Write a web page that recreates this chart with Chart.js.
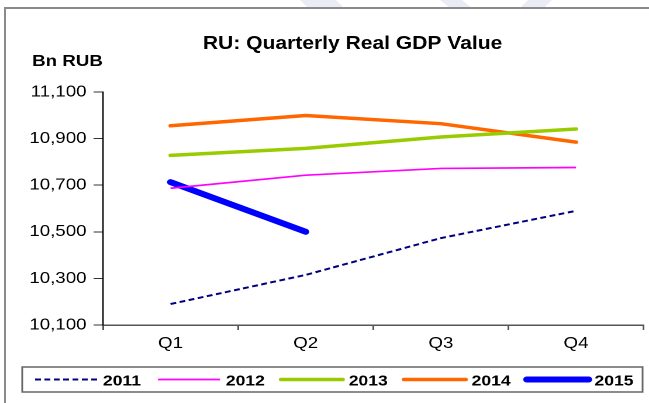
<!DOCTYPE html>
<html>
<head>
<meta charset="utf-8">
<title>RU: Quarterly Real GDP Value</title>
<script src="https://cdn.jsdelivr.net/npm/chart.js@4"></script>
<style>
  html, body { margin: 0; padding: 0; background: #fff; }
  body { width: 649px; height: 403px; position: relative; overflow: hidden; }
  #mark { position: absolute; left: 0; top: 0; }
  #frame { position: absolute; left: 4px; top: 7px; right: 0; bottom: 0;
           border-top: 2px solid #8a8a8a; border-left: 2px solid #8a8a8a; background: #fff; }
  /* the original picture is stretched sideways, so the chart is drawn narrow and widened */
  #wrap { position: absolute; left: 0; top: 0; width: 555px; height: 403px;
          transform: scaleX(1.1694); transform-origin: 0 0; }
</style>
</head>
<body>
<svg id="mark" width="649" height="10">
  <polygon points="300,0 336,0 344,8 308,8" fill="#ebebf5"/>
  <polygon points="440,0 462,0 472,8 450,8" fill="#ebebf5"/>
  <polygon points="528,0 552,0 544,8 520,8" fill="#ebebf5"/>
</svg>
<div id="frame"></div>
<div id="wrap"><canvas id="gdpChart"></canvas></div>

<script>
// --- Data (Bn RUB) ---
const quarters = ['Q1', 'Q2', 'Q3', 'Q4'];
const years    = ['2011', '2012', '2013', '2014', '2015'];
const gdp2011  = [10190, 10315, 10473, 10590];
const gdp2012  = [10687, 10743, 10772, 10776];
const gdp2013  = [10828, 10858, 10907, 10941];
const gdp2014  = [10955, 10999, 10964, 10885];
const gdp2015  = [10713, 10500];
const yMin = 10100, yMax = 11100, yStep = 200;

// --- Styles ---
const FONT = "'Liberation Sans', Arial, sans-serif";
const lineStyles = [
  { color: '#000080', width: 2,   dash: [5, 3], cap: 'butt'  },
  { color: '#ff00ff', width: 1.7, dash: [],     cap: 'butt'  },
  { color: '#99cc00', width: 3.5, dash: [],     cap: 'round' },
  { color: '#ff6600', width: 3.5, dash: [],     cap: 'round' },
  { color: '#0000ff', width: 6,   dash: [],     cap: 'round' }
];
const seriesData = [gdp2011, gdp2012, gdp2013, gdp2014, gdp2015];

const datasets = years.map((yr, i) => ({
  label: yr,
  data: seriesData[i],
  borderColor: lineStyles[i].color,
  backgroundColor: lineStyles[i].color,
  borderWidth: lineStyles[i].width,
  borderDash: lineStyles[i].dash,
  borderCapStyle: lineStyles[i].cap,
  borderJoinStyle: 'round',
  pointRadius: 0,
  tension: 0,
  fill: false
}));

const fmt = v => String(v).replace(/\B(?=(\d{3})+(?!\d))/g, ',');

// title, unit label and boxed legend
const decorations = {
  id: 'decorations',
  afterDraw(chart) {
    const c = chart.ctx;
    c.save();
    c.fillStyle = '#000';
    c.textBaseline = 'alphabetic';
    c.font = `bold 18px ${FONT}`;
    c.textAlign = 'center';
    c.fillText('RU: Quarterly Real GDP Value', 301.5, 49);
    c.font = `bold 16px ${FONT}`;
    c.textAlign = 'left';
    c.fillText('Bn RUB', 27.5, 66);

    // legend box
    c.strokeStyle = '#666';
    c.lineWidth = 1.5;
    c.strokeRect(19, 367, 530.5, 25);

    c.font = `bold 15px ${FONT}`;
    chart.data.datasets.forEach((ds, i) => {
      const x0 = 30 + i * 105.1;
      c.beginPath();
      c.strokeStyle = ds.borderColor;
      c.lineWidth = ds.borderWidth;
      c.setLineDash(ds.borderDash);
      c.lineCap = ds.borderCapStyle;
      c.moveTo(x0, 379.5);
      c.lineTo(x0 + 53, 379.5);
      c.stroke();
      c.setLineDash([]);
      c.fillText(ds.label, x0 + 58, 385.5);
    });
    c.restore();
  }
};

new Chart(document.getElementById('gdpChart'), {
  type: 'line',
  data: { labels: quarters, datasets },
  options: {
    responsive: true,
    maintainAspectRatio: false,
    devicePixelRatio: 2,
    animation: false,
    layout: { padding: { top: 92, right: 4.6, bottom: 48, left: 0 } },
    plugins: {
      legend: { display: false },
      tooltip: { enabled: false }
    },
    scales: {
      x: {
        offset: true,
        ticks: { color: '#000', font: { family: FONT, size: 16 }, padding: 4 },
        grid: { offset: true, drawOnChartArea: false, tickLength: 5, color: '#555', lineWidth: 1.5 },
        border: { color: '#555', width: 1.5 },
        afterFit: s => { s.height = 30; }
      },
      y: {
        min: yMin,
        max: yMax,
        ticks: { stepSize: yStep, padding: 6, color: '#000',
                 font: { family: FONT, size: 16 }, callback: v => fmt(v) },
        grid: { drawOnChartArea: false, tickLength: 8, color: '#333', lineWidth: 1 },
        border: { color: '#000', width: 1.2 },
        afterFit: s => { s.width = 88; }
      }
    }
  },
  plugins: [decorations]
});
</script>
</body>
</html>
